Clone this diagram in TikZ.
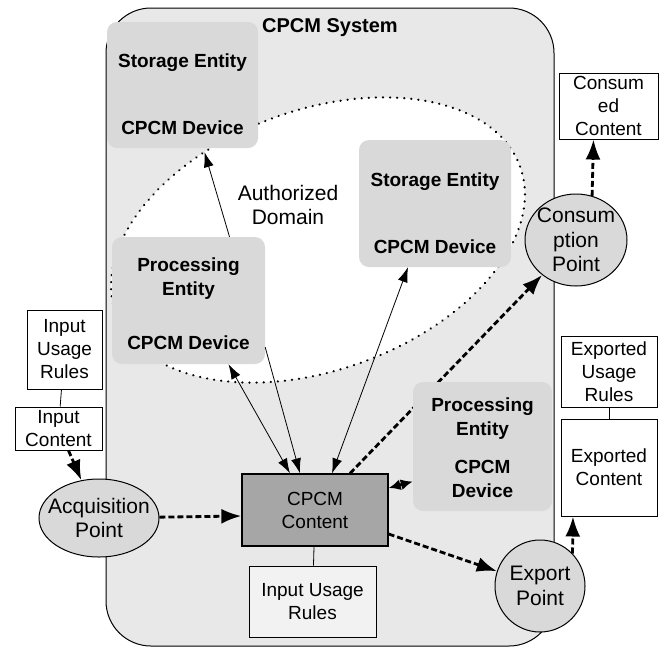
\documentclass[tikz,border=0pt]{standalone}
\usepackage{fontspec}
\setmainfont{Liberation Sans}
\usetikzlibrary{arrows.meta,shapes.geometric}

\begin{document}
\begin{tikzpicture}[x=1pt, y=-1pt,
    link/.style={-{Latex[length=15pt,width=10pt]}, line width=0.8pt},
    both/.style={{Latex[length=15pt,width=10pt]}-{Latex[length=15pt,width=10pt]}, line width=0.8pt},
    flow/.style={-{Latex[length=20pt,width=15pt]}, line width=2.8pt, dash pattern=on 6pt off 3pt},
    flowboth/.style={{Latex[length=12pt,width=11pt]}-{Latex[length=12pt,width=11pt]}, line width=2.8pt, dash pattern=on 6pt off 3pt},
    point/.style={ellipse, draw, fill=black!15, line width=1pt, inner sep=0pt},
    pointtext/.style={font=\fontsize{21}{24.5}\selectfont, align=center, inner sep=0pt}]

  \useasboundingbox (0,0) rectangle (668,648);

  % system area and authorized domain
  \draw[fill=black!9, line width=1pt, rounded corners=45pt] (106,8) rectangle (554,646);
  \draw[fill=white, line width=2.4pt, line cap=round, dash pattern=on 0.1pt off 7pt,
        rotate around={20:(318,240)}] (318,240) ellipse [x radius=215, y radius=130];

  \node[font=\fontsize{20}{24}\selectfont\bfseries] (title) at (330,28) {CPCM System};
  \node[font=\fontsize{21}{24}\selectfont, align=center] (domain) at (288,205) {Authorized\\Domain};

  % devices
  \begin{scope}[every node/.style={rounded corners=10pt, fill=black!15, inner sep=0pt}]
    \node[minimum width=151, minimum height=126] (stor1) at (182.5,85) {};
    \node[minimum width=153, minimum height=127] (procL) at (188.5,300.5) {};
    \node[minimum width=152, minimum height=127] (stor2) at (435,203.5) {};
  \end{scope}

  \begin{scope}[every node/.style={font=\fontsize{19}{24}\selectfont\bfseries, align=center}]
    \node (stor1a) at (182.5,63) {Storage Entity};
    \node (stor1b) at (182.5,128) {CPCM Device};
    \node (procLa) at (188.5,278.5) {Processing\\Entity};
    \node (procLb) at (188.5,343) {CPCM Device};
    \node (stor2a) at (435,182) {Storage Entity};
    \node (stor2b) at (435,247) {CPCM Device};
  \end{scope}

  % content and rule boxes
  \begin{scope}[every node/.style={draw, fill=white, line width=1pt, inner sep=0pt, align=center,
                                   font=\fontsize{19}{23}\selectfont}]
    \node[fill=black!35, line width=1.3pt, minimum width=146, minimum height=72] (cont) at (315,510) {CPCM\\Content};
    \node[fill=black!5, minimum width=127, minimum height=71] (iur) at (312.5,601.5) {Input Usage\\Rules};
    \node[minimum width=75, minimum height=79] (iul) at (64.5,349.5) {Input\\Usage\\Rules};
    \node[minimum width=87, minimum height=43] (inc) at (58.5,428.5) {Input\\Content};
    \node[minimum width=99, minimum height=66] (consd) at (608.5,106) {Consum\\ed\\Content};
    \node[minimum width=96, minimum height=71] (eur) at (609,371.5) {Exported\\Usage\\Rules};
    \node[minimum width=96, minimum height=97] (exc) at (609,467.5) {Exported\\Content};
  \end{scope}

  % entry and exit points
  \node[point, minimum width=120, minimum height=78, label={[pointtext]center:Acquisition\\Point}] (acq) at (99,518) {};
  \node[point, minimum width=102, minimum height=92, label={[pointtext]center:Consum\\ption\\Point}] (cons) at (576,240) {};
  \node[point, minimum width=90, minimum height=92, label={[pointtext]center:Export\\Point}] (expt) at (540,586) {};

  \path ([xshift=41]procL.north) edge[link] ([xshift=22,yshift=-4]stor1.south);
  \path ([xshift=40]procL.south) edge[both] ([xshift=-25]cont.north);
  \path ([yshift=17]procL.south east) edge[link] ([xshift=-15]cont.north);
  \path ([xshift=-27]stor2.south) edge[both] ([xshift=17]cont.north);
  \path ([xshift=35]cont.north) edge[flow] (cons);

  % processing device drawn over the dashed path
  \node[rounded corners=10pt, fill=black!15, inner sep=0pt, minimum width=139, minimum height=129] (procR) at (482.5,446.5) {};
  \begin{scope}[every node/.style={font=\fontsize{19}{24}\selectfont\bfseries, align=center}]
    \node (procRa) at (482.5,419) {Processing\\Entity};
    \node (procRb) at (482.5,478.5) {CPCM\\Device};
  \end{scope}

  \path ([yshift=22]cont.east) edge[flowboth] ([yshift=-35]procR.west);
  \path ([yshift=-24]cont.east) edge[flow] (expt);
  \path (acq) edge[flow] ([yshift=-6]cont.west);
  \path ([xshift=10]inc.south) edge[flow] (acq.115);
  \path (cons.70) edge[flow] ([xshift=-15]consd.south);
  \path (expt.45) edge[flow] ([xshift=-36]exc.south);

  \begin{scope}[every edge/.style={draw, line width=0.8pt}]
    \path (iul) edge (inc);
    \path (eur) edge (exc);
    \path (cont) edge (iur);
  \end{scope}

\end{tikzpicture}
\end{document}
